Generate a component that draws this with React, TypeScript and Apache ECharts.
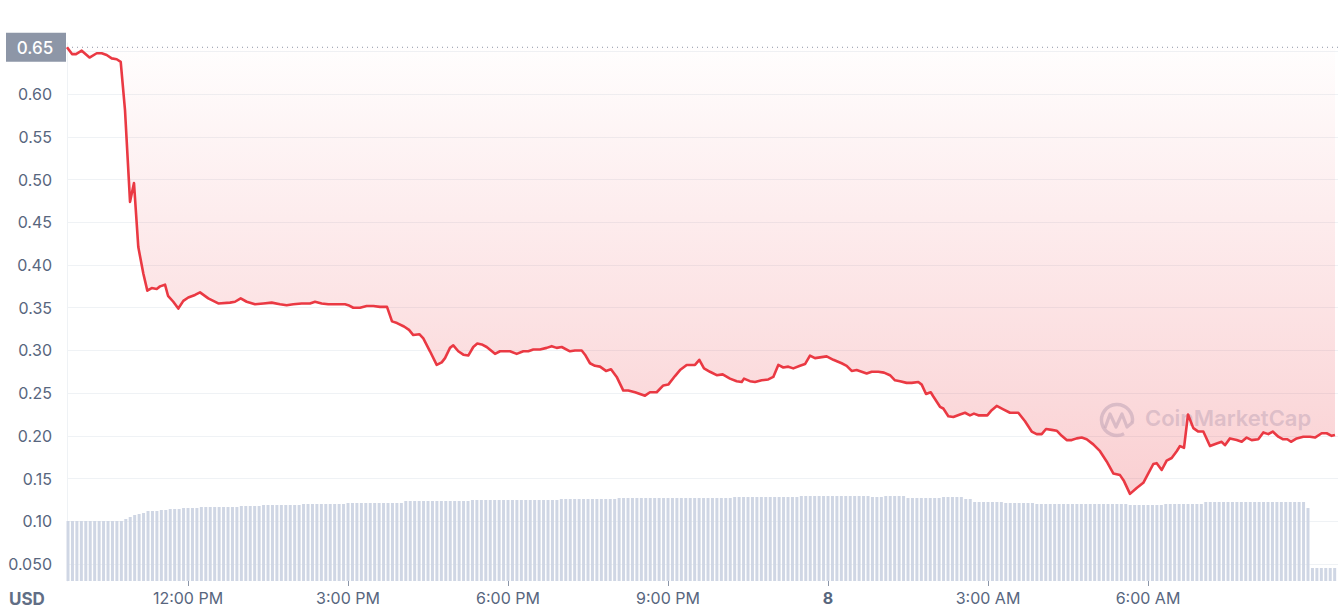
import React, { useEffect, useRef } from 'react';
import * as echarts from 'echarts';

// Price samples: time in hours from midnight of day 7 (24 = "8", midnight), price in USD
const priceTimes: number[] = [
  9.731, 9.825, 9.900, 10.007, 10.153, 10.288, 10.382, 10.475, 10.569, 10.663,
  10.738, 10.819, 10.913, 10.987, 11.068, 11.162, 11.237, 11.319, 11.413, 11.475,
  11.569, 11.625, 11.724, 11.818, 11.912, 12.005, 12.131, 12.225, 12.380, 12.568,
  12.787, 12.881, 12.988, 13.100, 13.256, 13.412, 13.569, 13.725, 13.850, 13.974,
  14.132, 14.287, 14.381, 14.506, 14.630, 14.788, 14.850, 14.944, 15.005, 15.099,
  15.225, 15.350, 15.474, 15.600, 15.731, 15.825, 15.919, 16.050, 16.144, 16.224,
  16.337, 16.412, 16.537, 16.663, 16.757, 16.819, 16.912, 16.974, 17.068, 17.162,
  17.255, 17.349, 17.424, 17.507, 17.600, 17.756, 17.850, 17.943, 18.037, 18.163,
  18.287, 18.380, 18.474, 18.600, 18.725, 18.819, 18.913, 19.007, 19.162, 19.256,
  19.382, 19.444, 19.537, 19.631, 19.725, 19.837, 19.931, 20.038, 20.162, 20.255,
  20.381, 20.475, 20.569, 20.662, 20.788, 20.912, 21.005, 21.131, 21.225, 21.350,
  21.506, 21.587, 21.675, 21.787, 21.913, 22.025, 22.162, 22.288, 22.382, 22.425,
  22.537, 22.631, 22.756, 22.880, 22.974, 23.068, 23.162, 23.255, 23.349, 23.475,
  23.569, 23.662, 23.756, 23.975, 24.100, 24.256, 24.350, 24.444, 24.537, 24.631,
  24.725, 24.819, 24.943, 25.050, 25.162, 25.256, 25.350, 25.475, 25.569, 25.693,
  25.757, 25.838, 25.926, 25.975, 26.100, 26.162, 26.256, 26.350, 26.475, 26.569,
  26.662, 26.737, 26.818, 26.987, 27.069, 27.163, 27.287, 27.412, 27.568, 27.694,
  27.819, 27.913, 28.007, 28.088, 28.194, 28.288, 28.382, 28.475, 28.569, 28.663,
  28.757, 28.850, 28.974, 29.100, 29.225, 29.349, 29.475, 29.550, 29.662, 29.788,
  29.912, 30.006, 30.100, 30.163, 30.257, 30.350, 30.444, 30.538, 30.600, 30.675,
  30.750, 30.850, 30.944, 31.037, 31.162, 31.288, 31.381, 31.443, 31.537, 31.663,
  31.757, 31.850, 31.944, 32.068, 32.162, 32.256, 32.338, 32.443, 32.526, 32.612,
  32.681, 32.788, 32.912, 33.037, 33.131, 33.256, 33.350, 33.444, 33.506,
];

const prices: number[] = [
  0.655, 0.647, 0.647, 0.651, 0.643, 0.648, 0.648, 0.646, 0.642, 0.641,
  0.638, 0.581, 0.474, 0.496, 0.421, 0.390, 0.370, 0.373, 0.372, 0.375,
  0.377, 0.364, 0.357, 0.349, 0.358, 0.362, 0.365, 0.368, 0.361, 0.355,
  0.356, 0.357, 0.361, 0.357, 0.354, 0.355, 0.356, 0.354, 0.353, 0.354,
  0.355, 0.355, 0.357, 0.355, 0.354, 0.354, 0.354, 0.354, 0.353, 0.350,
  0.350, 0.352, 0.352, 0.351, 0.351, 0.334, 0.332, 0.328, 0.324, 0.318,
  0.319, 0.314, 0.299, 0.283, 0.286, 0.291, 0.303, 0.306, 0.299, 0.295,
  0.294, 0.304, 0.308, 0.307, 0.304, 0.296, 0.299, 0.299, 0.299, 0.296,
  0.299, 0.299, 0.301, 0.301, 0.303, 0.305, 0.303, 0.304, 0.299, 0.300,
  0.300, 0.295, 0.285, 0.282, 0.281, 0.276, 0.278, 0.269, 0.253, 0.253,
  0.251, 0.249, 0.247, 0.251, 0.251, 0.259, 0.260, 0.270, 0.277, 0.283,
  0.283, 0.289, 0.279, 0.275, 0.271, 0.272, 0.267, 0.264, 0.263, 0.267,
  0.264, 0.263, 0.265, 0.266, 0.269, 0.283, 0.280, 0.281, 0.279, 0.282,
  0.284, 0.294, 0.291, 0.293, 0.289, 0.285, 0.282, 0.276, 0.277, 0.275,
  0.273, 0.275, 0.275, 0.274, 0.271, 0.265, 0.264, 0.262, 0.262, 0.263,
  0.260, 0.249, 0.251, 0.246, 0.234, 0.232, 0.223, 0.222, 0.225, 0.227,
  0.224, 0.226, 0.224, 0.224, 0.230, 0.235, 0.231, 0.227, 0.227, 0.217,
  0.205, 0.202, 0.202, 0.208, 0.207, 0.206, 0.200, 0.195, 0.195, 0.197,
  0.198, 0.196, 0.190, 0.182, 0.170, 0.156, 0.154, 0.147, 0.132, 0.139,
  0.145, 0.156, 0.167, 0.168, 0.160, 0.171, 0.174, 0.182, 0.188, 0.186,
  0.225, 0.209, 0.205, 0.205, 0.188, 0.191, 0.193, 0.189, 0.197, 0.195,
  0.193, 0.198, 0.195, 0.196, 0.204, 0.202, 0.205, 0.199, 0.196, 0.196,
  0.193, 0.197, 0.199, 0.199, 0.198, 0.203, 0.203, 0.200, 0.201,
];

// Volume bars (millions, 5-minute buckets starting 9:45 AM), one row per hour
const volumeStartHour = 9.75;
const volumeStepMinutes = 5;
const volumes: number[] = [
  6.0, 6.0, 6.0, 6.0, 6.0, 6.0, 6.0, 6.0, 6.0, 6.0, 6.0, 6.0,
  6.0, 6.2, 6.4, 6.6, 6.7, 6.8, 7.0, 7.0, 7.0, 7.1, 7.1, 7.2,
  7.2, 7.2, 7.3, 7.3, 7.3, 7.3, 7.4, 7.4, 7.4, 7.4, 7.4, 7.4,
  7.4, 7.4, 7.4, 7.5, 7.5, 7.5, 7.5, 7.5, 7.6, 7.6, 7.6, 7.6,
  7.6, 7.6, 7.6, 7.6, 7.6, 7.7, 7.7, 7.7, 7.7, 7.7, 7.7, 7.7,
  7.7, 7.7, 7.7, 7.8, 7.8, 7.8, 7.8, 7.8, 7.8, 7.8, 7.8, 7.8,
  7.8, 7.8, 7.8, 7.8, 8.0, 8.0, 8.0, 8.0, 8.0, 8.0, 8.0, 8.0,
  8.0, 8.0, 8.0, 8.0, 8.0, 8.0, 8.0, 8.1, 8.1, 8.1, 8.1, 8.1,
  8.1, 8.1, 8.1, 8.1, 8.1, 8.1, 8.1, 8.1, 8.1, 8.1, 8.1, 8.1,
  8.1, 8.1, 8.1, 8.2, 8.2, 8.2, 8.2, 8.2, 8.2, 8.2, 8.2, 8.2,
  8.2, 8.2, 8.2, 8.2, 8.3, 8.3, 8.3, 8.3, 8.3, 8.3, 8.3, 8.3,
  8.3, 8.3, 8.3, 8.3, 8.3, 8.3, 8.3, 8.3, 8.3, 8.3, 8.3, 8.3,
  8.3, 8.3, 8.3, 8.3, 8.3, 8.3, 8.4, 8.4, 8.4, 8.4, 8.4, 8.4,
  8.4, 8.4, 8.4, 8.4, 8.4, 8.4, 8.4, 8.4, 8.4, 8.5, 8.5, 8.5,
  8.5, 8.5, 8.5, 8.5, 8.5, 8.5, 8.5, 8.5, 8.5, 8.5, 8.5, 8.5,
  8.5, 8.4, 8.4, 8.4, 8.5, 8.5, 8.5, 8.5, 8.5, 8.3, 8.3, 8.3,
  8.3, 8.3, 8.3, 8.3, 8.3, 8.4, 8.4, 8.4, 8.4, 8.4, 8.2, 8.2,
  7.9, 7.9, 7.9, 7.9, 7.9, 7.9, 7.9, 7.8, 7.8, 7.8, 7.8, 7.8,
  7.8, 7.8, 7.7, 7.7, 7.7, 7.7, 7.7, 7.7, 7.7, 7.7, 7.7, 7.7,
  7.7, 7.7, 7.7, 7.7, 7.7, 7.7, 7.7, 7.7, 7.7, 7.7, 7.7, 7.6,
  7.6, 7.6, 7.6, 7.6, 7.6, 7.6, 7.6, 7.7, 7.7, 7.7, 7.7, 7.7,
  7.7, 7.7, 7.7, 7.7, 7.9, 7.9, 7.9, 7.9, 7.9, 7.9, 7.9, 7.9,
  7.9, 7.9, 7.9, 7.9, 7.9, 7.9, 7.9, 7.9, 7.9, 7.9, 7.9, 7.9,
  7.9, 7.9, 7.9, 7.3, 1.3, 1.3, 1.3, 1.3, 1.3, 1.3,
];

const xTickHours = [12, 15, 18, 21, 24, 27, 30];
// grid lines at every 0.05; the 0.65 label sits under the opening-price tag
const yGridTicks = [0.05, 0.1, 0.15, 0.2, 0.25, 0.3, 0.35, 0.4, 0.45, 0.5, 0.55, 0.6, 0.65];
const yLabelTicks = [0.05, 0.1, 0.15, 0.2, 0.25, 0.3, 0.35, 0.4, 0.45, 0.5, 0.55, 0.6];
const openPrice = 0.655;
const openPriceLabel = '0.65';
const currencyLabel = 'USD';
const watermarkText = 'CoinMarketCap';

const xMin = 9.731;
const xMax = 33.5625;
const yMin = 0.03;
const yMax = 0.66;
const volMax = 53.8;

function formatHour(v: number): string {
  if (v === 24) return '{d|8}';
  const hh = ((v % 24) + 24) % 24;
  const ampm = hh >= 12 ? 'PM' : 'AM';
  const h12 = hh % 12 === 0 ? 12 : hh % 12;
  return `${h12}:00 ${ampm}`;
}

const font = 'Inter, "Noto Sans", sans-serif';
const labelColor = '#58667e';
const markColor = '#8d96a7';

function buildGraphic(openY: number | null) {
  const items: any[] = [
    {
      type: 'text',
      left: 9,
      top: 590,
      style: { text: currencyLabel, font: `bold 17px ${font}`, fill: '#616e85' },
    },
    {
      type: 'group',
      z: 20,
      silent: true,
      children: [
        {
          type: 'arc',
          shape: { cx: 1117, cy: 420, r: 15.5, startAngle: Math.PI * 0.35, endAngle: Math.PI * 2.05 },
          style: { stroke: 'rgba(196,204,220,0.7)', lineWidth: 3.5, fill: null },
        },
        {
          type: 'polyline',
          shape: {
            points: [[1105, 428], [1110, 414], [1116, 427], [1122, 414], [1127, 427], [1133, 422]],
          },
          style: { stroke: 'rgba(196,204,220,0.7)', lineWidth: 3.2, fill: null, lineJoin: 'round' },
        },
        {
          type: 'text',
          x: 1145,
          y: 407,
          style: { text: watermarkText, font: `600 22px ${font}`, fill: 'rgba(196,204,220,0.65)' },
        },
      ],
    },
  ];
  if (openY != null && isFinite(openY)) {
    items.push({
      type: 'group',
      z: 30,
      silent: true,
      children: [
        {
          type: 'line',
          shape: { x1: 67, y1: openY, x2: 1338, y2: openY },
          style: { stroke: markColor, lineWidth: 1, lineDash: [1, 4] },
        },
        {
          type: 'rect',
          shape: { x: 6, y: openY - 14.5, width: 60, height: 29 },
          style: { fill: markColor },
        },
        {
          type: 'text',
          x: 35,
          y: openY + 0.5,
          style: {
            text: openPriceLabel,
            font: `500 17px ${font}`,
            fill: '#ffffff',
            align: 'center',
            verticalAlign: 'middle',
          },
        },
      ],
    });
  }
  return items;
}

export default function App() {
  const ref = useRef<HTMLDivElement>(null);

  useEffect(() => {
    if (!ref.current) return;
    const chart = echarts.init(ref.current, null, { renderer: 'svg' });

    const n = Math.min(priceTimes.length, prices.length);
    const priceData: [number, number][] = [];
    for (let i = 0; i < n; i++) priceData.push([priceTimes[i], prices[i]]);

    const volData: [number, number][] = volumes.map((v, i) => [
      volumeStartHour + (i * volumeStepMinutes) / 60,
      v,
    ]);

    chart.setOption({
      animation: false,
      backgroundColor: '#ffffff',
      grid: { left: 67, right: 3, top: 43, bottom: 26, containLabel: false },
      xAxis: {
        type: 'value',
        min: xMin,
        max: xMax,
        splitNumber: 8,
        axisLine: { show: false },
        splitLine: { show: false },
        axisTick: {
          show: true,
          length: 5,
          customValues: xTickHours,
          lineStyle: { color: '#8c96a8', width: 1 },
        },
        axisLabel: {
          customValues: xTickHours,
          formatter: formatHour,
          color: labelColor,
          fontSize: 16,
          lineHeight: 16,
          fontFamily: font,
          margin: 9,
          rich: {
            d: { fontWeight: 'bold', color: labelColor, fontSize: 16, lineHeight: 16, fontFamily: font },
          },
        },
      },
      yAxis: [
        {
          type: 'value',
          min: yMin,
          max: yMax,
          splitNumber: 12,
          position: 'left',
          axisLine: { show: true, lineStyle: { color: '#eff2f5', width: 1 } },
          axisTick: { show: false, customValues: yGridTicks },
          axisLabel: {
            customValues: yLabelTicks,
            formatter: (v: number) => (Math.abs(v - 0.05) < 1e-9 ? '0.050' : v.toFixed(2)),
            color: labelColor,
            fontSize: 16,
            fontFamily: font,
            margin: 15,
          },
          splitLine: { show: true, lineStyle: { color: '#eff2f5', width: 1 } },
        },
        {
          type: 'value',
          min: 0,
          max: volMax,
          show: false,
          splitLine: { show: false },
        },
      ],
      series: [
        {
          type: 'bar',
          yAxisIndex: 1,
          data: volData,
          barWidth: 3,
          itemStyle: { color: '#cfd6e4' },
          silent: true,
          z: 1,
        },
        {
          type: 'line',
          data: priceData,
          showSymbol: false,
          symbol: 'none',
          clip: false,
          lineStyle: { color: '#ea3943', width: 2.6, join: 'round' },
          areaStyle: {
            origin: openPrice,
            color: new echarts.graphic.LinearGradient(0, 0, 0, 1, [
              { offset: 0, color: 'rgba(234,57,67,0.01)' },
              { offset: 1, color: 'rgba(234,57,67,0.34)' },
            ]),
          },
          z: 3,
        },
      ],
      graphic: buildGraphic(null),
    });

    const openY = chart.convertToPixel({ yAxisIndex: 0 }, openPrice) as number;
    chart.setOption({ graphic: buildGraphic(openY) }, { replaceMerge: ['graphic'] });

    return () => chart.dispose();
  }, []);

  return (
    <div
      ref={ref}
      style={{ position: 'fixed', left: 0, top: 0, width: 1341, height: 607, background: '#fff' }}
    />
  );
}
